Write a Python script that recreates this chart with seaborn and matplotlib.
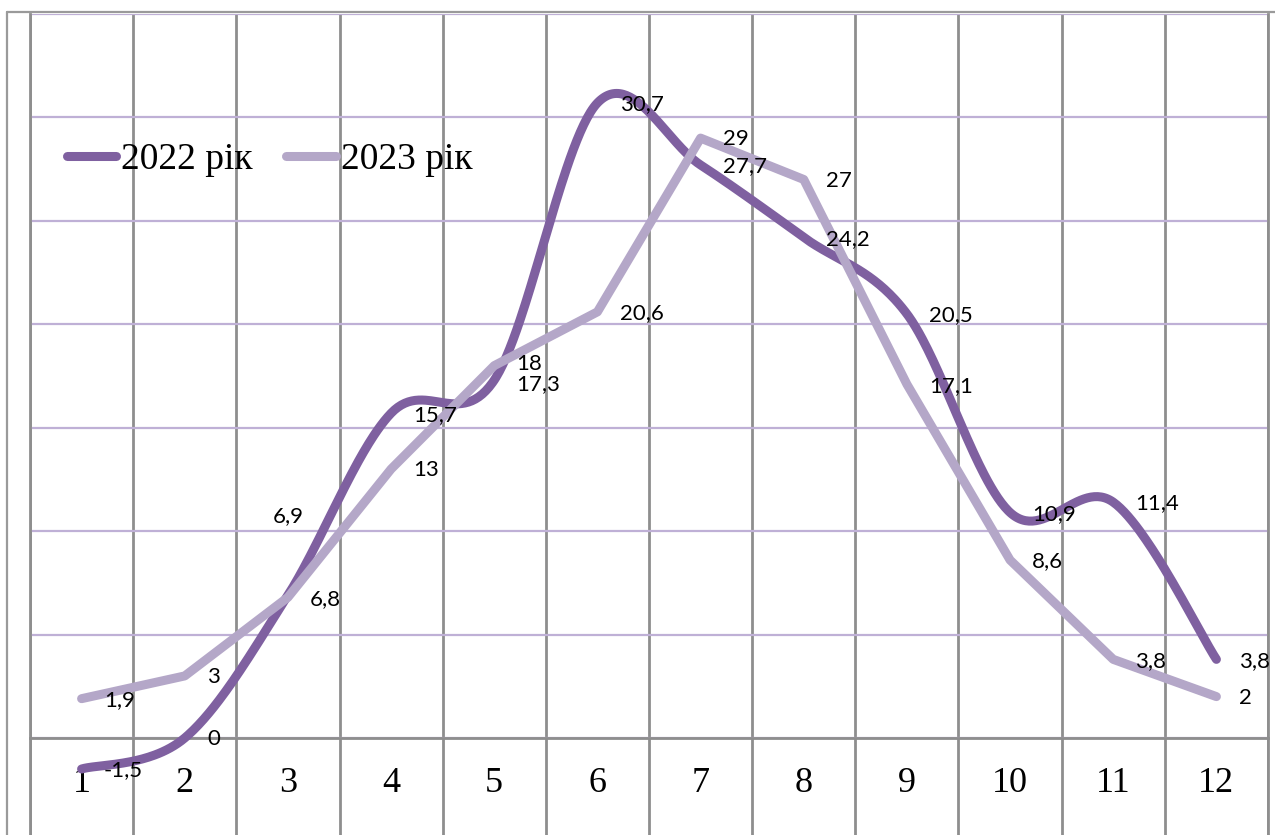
import numpy as np
import pandas as pd
import matplotlib
matplotlib.use("Agg")
import matplotlib.pyplot as plt
import seaborn as sns
from matplotlib.lines import Line2D

# Monthly mean temperatures
months = list(range(1, 13))
month_labels = [str(m) for m in months]
t2022 = [-1.5, 0, 6.9, 15.7, 17.3, 30.7, 27.7, 24.2, 20.5, 10.9, 11.4, 3.8]
t2023 = [1.9, 3, 6.8, 13, 18, 20.6, 29, 27, 17.1, 8.6, 3.8, 2]
series_names = ["2022 рік", "2023 рік"]

c2022 = "#7f60a0"
c2023 = "#b4a7c8"
grid_purple = "#bfb0d6"
grid_gray = "#8e8e8e"

W, H = 1275, 835


def bezier_smooth(x, y, steps=60):
    """Smooth curve through points using cubic Bezier segments (Catmull-Rom tangents)."""
    x = np.asarray(x, float)
    y = np.asarray(y, float)
    n = len(x)
    P = np.column_stack([x, y])
    out = []
    for i in range(n - 1):
        p0 = P[max(i - 1, 0)]
        p1 = P[i]
        p2 = P[i + 1]
        p3 = P[min(i + 2, n - 1)]
        c1 = p1 + (p2 - p0) / 6.0
        c2 = p2 - (p3 - p1) / 6.0
        t = np.linspace(0, 1, steps, endpoint=(i == n - 2))[:, None]
        seg = ((1 - t) ** 3) * p1 + 3 * ((1 - t) ** 2) * t * c1 + 3 * (1 - t) * t ** 2 * c2 + t ** 3 * p2
        out.append(seg)
    pts = np.vstack(out)
    return pts[:, 0], pts[:, 1]


sns.set_style("white")
plt.rcParams["font.family"] = ["Liberation Serif", "DejaVu Serif"]
plt.rcParams["text.color"] = "black"
plt.rcParams["xtick.color"] = "black"

fig = plt.figure(figsize=(W / 100, H / 100), dpi=100)
y_top_px, y_bot_px = 14.0, 841.4
ax = fig.add_axes([30 / W, (H - y_bot_px) / H, (1268 - 30) / W, (y_bot_px - y_top_px) / H])

lw = 6.5
sx, sy = bezier_smooth(months, t2022)
smooth_df = pd.DataFrame({"month": sx, "temp": sy})
sns.lineplot(data=smooth_df, x="month", y="temp", sort=False, estimator=None, ax=ax,
             color=c2022, lw=lw, solid_capstyle="round", solid_joinstyle="round", zorder=3)

df23 = pd.DataFrame({"month": months, "temp": t2023})
sns.lineplot(data=df23, x="month", y="temp", sort=False, estimator=None, ax=ax,
             color=c2023, lw=lw, solid_capstyle="round", solid_joinstyle="round", zorder=4)

ax.set_xlim(0.5, 12.5)
ax.set_ylim(-5, 35)
ax.set_xlabel("")
ax.set_ylabel("")

# category axis crosses at zero
ax.spines["bottom"].set_position(("data", 0))
for side in ["bottom", "left", "right"]:
    ax.spines[side].set_color(grid_gray)
    ax.spines[side].set_linewidth(2)
ax.spines["top"].set_visible(False)

# horizontal gridlines (light purple) and vertical category separators (gray)
ax.set_yticks(np.arange(-5, 36, 5))
ax.yaxis.grid(True, color=grid_purple, lw=1.6, zorder=0)
ax.set_xticks(months)
ax.set_xticklabels(month_labels)
ax.set_xticks(np.arange(0.5, 13, 1), minor=True)
ax.xaxis.grid(True, which="minor", color=grid_gray, lw=2, zorder=0)
ax.xaxis.grid(False, which="major")
ax.tick_params(axis="both", which="both", length=0)
ax.tick_params(axis="y", labelleft=False)
ax.tick_params(axis="x", which="major", pad=21, labelsize=26, labelcolor="black")
for lab in ax.get_xticklabels():
    lab.set_family("Liberation Serif")
ax.set_axisbelow(True)


def fmt(v):
    return f"{v:g}".replace(".", ",")


label_font = dict(fontsize=16, family=["Lato", "DejaVu Sans"], color="black", zorder=6)
# a few labels are shifted to keep clear of their neighbours
offsets_2022 = {3: (-11, 57), 5: (16, -3)}
offsets_2023 = {5: (16, 1.5)}
for m, v in zip(months, t2022):
    dx, dy = offsets_2022.get(m, (16, -1))
    ax.annotate(fmt(v), (m, v), xytext=(dx, dy), textcoords="offset points",
                ha="left", va="center", **label_font)
for m, v in zip(months, t2023):
    dx, dy = offsets_2023.get(m, (16, -1))
    ax.annotate(fmt(v), (m, v), xytext=(dx, dy), textcoords="offset points",
                ha="left", va="center", **label_font)

handles = [Line2D([], [], color=c2022, lw=lw, solid_capstyle="round"),
           Line2D([], [], color=c2023, lw=lw, solid_capstyle="round")]
leg = ax.legend(handles, series_names, loc="center left",
                bbox_to_anchor=(66.5 / W, 1 - 160 / H), bbox_transform=fig.transFigure,
                ncol=2, frameon=False, borderpad=0, borderaxespad=0,
                handlelength=1.33, handletextpad=0.12, columnspacing=0.9,
                prop={"family": "Liberation Serif", "size": 27})
for t in leg.get_texts():
    t.set_color("black")

# outer chart frame
fig.add_artist(Line2D([6.5 / W, 1.0], [1 - 11.5 / H, 1 - 11.5 / H], transform=fig.transFigure,
                      color="#9a9a9a", lw=1.6))
fig.add_artist(Line2D([6.5 / W, 6.5 / W], [0, 1 - 11.5 / H], transform=fig.transFigure,
                      color="#9a9a9a", lw=1.6))

fig.savefig("out.png", dpi=100)
